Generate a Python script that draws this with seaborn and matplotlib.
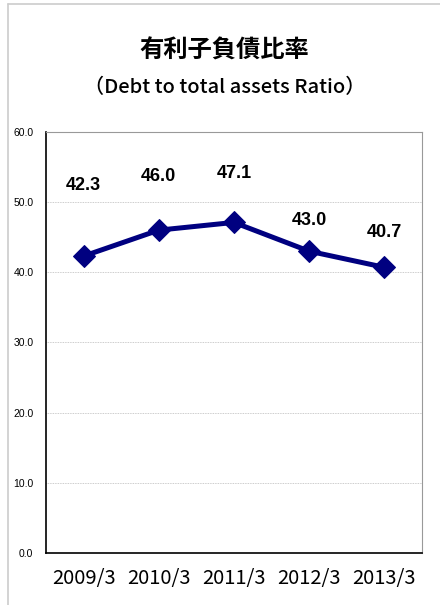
import matplotlib
matplotlib.use("Agg")
import matplotlib.pyplot as plt
import seaborn as sns
import pandas as pd

years = ["2009/3", "2010/3", "2011/3", "2012/3", "2013/3"]
ratio = [42.3, 46.0, 47.1, 43.0, 40.7]
label_offset = [10.0, 7.6, 7.0, 4.4, 5.0]
yticks = [0, 10, 20, 30, 40, 50, 60]

sns.set_style("white")
plt.rcParams['font.family'] = ['Noto Sans CJK JP', 'DejaVu Sans']
plt.rcParams['text.color'] = 'black'
plt.rcParams['xtick.color'] = 'black'
plt.rcParams['ytick.color'] = 'black'

df = pd.DataFrame({"year": years, "ratio": ratio})

fig = plt.figure(figsize=(4.4, 6.05), dpi=100)
ax = fig.add_axes([0.1045, 0.086, 0.8545, 0.696])

sns.lineplot(data=df, x="year", y="ratio", ax=ax, color="#000080",
             linewidth=3.6, marker="D", markersize=11, markeredgecolor="#000080",
             sort=False)

for i, (v, off) in enumerate(zip(ratio, label_offset)):
    ax.text(i, v + off, f"{v:.1f}", ha="center", va="center", color="black",
            fontsize=13, fontweight="bold", family=["Liberation Sans", "DejaVu Sans"])

ax.set_xlim(-0.5, 4.5)
ax.set_ylim(0, 60)
ax.set_yticks(yticks)
ax.set_yticklabels([f"{t:.1f}" for t in yticks], fontsize=7.5,
                   family=["Liberation Sans", "DejaVu Sans"])
ax.set_xticks(range(len(years)))
ax.set_xticklabels(years, fontsize=14.5)
ax.set_xticks([0.5, 1.5, 2.5, 3.5], minor=True)
ax.tick_params(axis="x", which="major", length=0, pad=11)
ax.tick_params(axis="x", which="minor", direction="in", length=5, color="#999999")
ax.tick_params(axis="y", length=0, pad=9)
ax.set_xlabel("")
ax.set_ylabel("")
ax.yaxis.grid(True, color="#bbbbbb", linewidth=0.6, linestyle=(0, (1, 1)))
ax.set_axisbelow(True)

ax.spines["left"].set_color("black")
ax.spines["bottom"].set_color("black")
ax.spines["left"].set_linewidth(1.2)
ax.spines["bottom"].set_linewidth(1.2)
ax.spines["top"].set_color("#999999")
ax.spines["right"].set_color("#999999")
ax.spines["top"].set_linewidth(0.8)
ax.spines["right"].set_linewidth(0.8)

fig.text(0.51, 0.917, "有利子負債比率", ha="center", va="center",
         fontsize=17.5, fontweight="bold")
fig.text(0.51, 0.855, "（Debt to total assets Ratio）", ha="center", va="center",
         fontsize=14.5, fontweight="medium")

# outer frame lines
fig.add_artist(plt.Line2D([0.018, 1], [0.993, 0.993], color="#cccccc", linewidth=1.2))
fig.add_artist(plt.Line2D([0.018, 0.018], [0, 0.993], color="#cccccc", linewidth=1.2))

fig.savefig("out.png", dpi=100)
